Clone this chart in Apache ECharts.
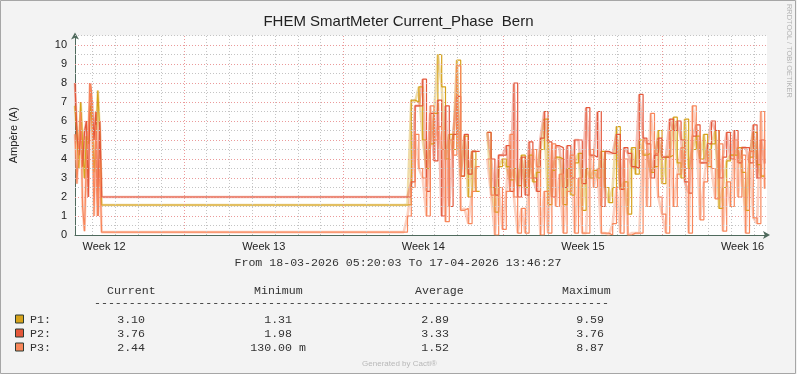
<!DOCTYPE html>
<html><head><meta charset="utf-8">
<script src="https://cdn.jsdelivr.net/npm/echarts@6/dist/echarts.min.js"></script>
<style>html,body{margin:0;padding:0;background:#f3f3f3}#c{width:797px;height:374px}</style>
</head><body><div id="c"></div>
<script>
// time in hours since 18-03-2026 05:20:03
const hours = [0,2,4,6,8,10,12,14,16,18,20,22,24,26,28,346,
350,354,358,362,366,370,374,378,382,386,
390,394,398,402,406,410,414,418,422,426,
430,434,438,442,446,450,454,458,462,466,
470,474,478,482,486,490,494,498,502,506,
510,514,518,522,526,530,534,538,542,546,
550,554,558,562,566,570,574,578,582,586,
590,594,598,602,606,610,614,618,622,626,
630,634,638,642,646,650,654,658,662,666,
670,674,678,682,686,690,694,698,702,706,
710,714,718,722,726];

const P1 = [6.8,5.4,3.5,7.0,4.8,3.0,5.2,4.8,6.8,6.0,3.3,4.7,7.6,5.5,1.58,1.58,
1.6,7.1,7.0,7.8,5.0,3.5,4.8,6.4,9.5,7.8,
4.0,5.3,4.5,9.2,3.1,5.2,2.0,4.4,2.3,null,
null,5.4,2.5,1.2,3.6,4.0,3.6,2.9,3.5,2.6,
4.2,2.5,4.2,2.8,3.3,4.5,6.1,1.6,3.4,4.1,
4.0,1.6,3.5,2.1,3.8,4.3,1.3,3.5,3.0,3.4,
3.0,4.4,2.5,1.7,2.5,5.7,2.4,2.8,1.1,4.6,
3.2,5.0,4.2,4.3,3.3,3.6,5.5,2.7,4.1,4.2,
6.2,3.8,3.0,6.1,3.5,4.5,5.2,4.0,5.3,3.6,
4.8,5.5,1.4,2.5,3.9,4.2,4.2,4.6,3.3,1.3,
4.1,5.4,3.7,3.1,3.10];

const P2 = [8.0,5.3,4.2,5.5,3.6,5.4,6.0,2.0,8.0,6.9,5.0,6.5,1.0,6.0,2.0,2.0,
2.0,2.8,6.8,6.8,8.2,2.3,6.4,3.9,7.1,1.0,
6.8,1.5,5.3,7.3,3.1,5.3,3.2,4.4,4.4,null,
null,5.4,4.0,2.1,4.2,4.2,4.7,2.3,8.0,2.0,
4.1,2.1,4.9,3.0,2.3,5.1,6.5,4.9,2.0,4.7,
4.6,2.5,4.7,3.0,5.0,5.0,2.7,6.7,4.2,4.1,
6.5,1.5,4.4,4.3,4.3,5.3,2.4,4.6,4.3,3.6,
3.5,7.4,5.1,4.8,3.0,4.2,5.1,4.1,4.1,6.1,
5.5,6.0,5.0,2.8,2.2,5.2,5.8,3.8,3.8,4.8,
6.0,5.5,3.0,4.1,5.4,4.0,5.5,3.8,4.6,4.6,
3.8,5.8,3.0,5.0,3.76];

const P3 = [5.3,2.7,4.8,6.5,1.5,0.2,4.0,5.3,8.0,6.8,1.0,5.8,1.0,4.0,0.15,0.15,
1.0,2.5,5.3,3.5,3.0,1.0,6.8,5.0,5.7,4.5,
0.7,5.0,4.2,8.9,1.3,1.4,0.6,2.3,3.6,null,
null,4.0,2.1,0.0,2.5,0.3,2.3,5.3,2.0,0.1,
1.4,0.1,3.0,4.5,3.6,0.0,2.3,0.1,4.8,1.5,
3.2,0.1,2.3,4.2,0.1,3.0,0.1,0.1,4.5,2.5,
3.5,0.1,0.1,0.0,0.6,2.5,0.1,4.0,0.0,0.1,
0.1,0.1,5.0,1.5,6.4,4.3,2.0,1.1,0.1,5.5,
1.5,3.2,4.6,3.5,0.1,6.8,5.5,0.8,2.8,4.5,
3.5,1.9,4.8,0.2,2.8,1.5,5.0,2.0,4.2,0.1,
4.4,0.9,0.6,6.5,2.44];

const seriesNames = ['P1','P2','P3'];
const seriesColors = ['#D6A21B','#E4573A','#F8875B'];

const weekLabels = ['Week 12','Week 13','Week 14','Week 15','Week 16'];
const weekLabelHours = [30.67,198.67,366.67,534.67,702.67];
const weekStartHours = [114.67,282.67,450.67,618.67];
const dayStartHours = [18.67,42.67,66.67,90.67,114.67,138.67,162.67,186.67,210.67,234.67,
258.67,282.67,306.67,330.67,354.67,378.67,402.67,426.67,450.67,474.67,
498.67,522.67,546.67,570.67,594.67,618.67,642.67,666.67,690.67,714.67];
const xMax = 728.44;

const yTicks = [0,1,2,3,4,5,6,7,8,9,10];
const yMinorTicks = [0.5,1.5,2.5,3.5,4.5,5.5,6.5,7.5,8.5,9.5,10.5];
const yMax = 10.5;

const titleText = 'FHEM SmartMeter Current_Phase  Bern';
const yAxisTitle = 'Ampère (A)';
const rangeText = 'From 18-03-2026 05:20:03 To 17-04-2026 13:46:27';
const legendHeaders = ['Current','Minimum','Average','Maximum'];
const legendLabels = ['P1:','P2:','P3:'];
const legendCurrent = ['3.10','3.76','2.44'];
const legendMinimum = ['1.31','1.98','130.00 m'];
const legendAverage = ['2.89','3.33','1.52'];
const legendMaximum = ['9.59','3.76','8.87'];

const chart = echarts.init(document.getElementById('c'), null, {renderer:'canvas'});

const GRID_L = 67, GRID_R = 30, GRID_T = 35.5, GRID_B = 139;
const minorGrid = {color:'#c4c4c4', width:1, type:[1,2]};
const majorGrid = {color:'#eb9a9a', width:1, type:[1,2]};

const gridLines = [];
dayStartHours.forEach(h => { if (weekStartHours.indexOf(h) < 0) gridLines.push({xAxis:h, lineStyle:minorGrid}); });
weekStartHours.forEach(h => gridLines.push({xAxis:h, lineStyle:majorGrid}));
yMinorTicks.forEach(v => gridLines.push({yAxis:v, lineStyle:minorGrid}));
yTicks.forEach(v => { if (v > 0) gridLines.push({yAxis:v, lineStyle:majorGrid}); });

function pairs(vals){ return hours.map((h,i)=>[h, vals[i]]); }
const allVals = [P1,P2,P3];

const series = [{
  type:'line', z:1, data:[[0,0]], showSymbol:false, lineStyle:{opacity:0}, silent:true,
  markLine:{silent:true, symbol:['none','none'], label:{show:false}, animation:false, data:gridLines}
}];
allVals.forEach((v,k)=>series.push({
  name:seriesNames[k]+'_shade', type:'line', z:2, data:pairs(v), showSymbol:false, connectNulls:false,
  lineStyle:{color:seriesColors[k], width:2.6, opacity:0.38}, silent:true
}));
allVals.forEach((v,k)=>series.push({
  name:seriesNames[k], type:'line', z:3, step:'end', data:pairs(v), showSymbol:false, connectNulls:false,
  lineStyle:{color:seriesColors[k], width:1.2}, silent:true
}));

const mono = '11.6px "Liberation Mono", monospace';
const CW = 6.96;
const graphics = [];
function txt(x,y,text,font,fill,align){
  graphics.push({type:'text', silent:true, style:{x:x,y:y,text:text,font:font,fill:fill,align:align||'left',verticalAlign:'middle'}});
}
txt(398, 263, rangeText, mono, '#333', 'center');
const headerX = [107,254,415,562];
legendHeaders.forEach((h,i)=>txt(headerX[i], 291, h, mono, '#333', 'left'));
txt(94, 303, '-'.repeat(74), mono, '#333', 'left');
const colRight = [145,292,449,604];
const cols = [legendCurrent, legendMinimum, legendAverage, legendMaximum];
legendLabels.forEach((lab,r)=>{
  const y = 319.5 + r*14;
  graphics.push({type:'rect', silent:true, shape:{x:15.5,y:y-4.5,width:8,height:8},
    style:{fill:seriesColors[r], stroke:'#2b3b33', lineWidth:1}});
  txt(30, y, lab, mono, '#333', 'left');
  cols.forEach((col,c)=>{
    let s = col[r];
    if (s.indexOf(' ') < 0) s = s + '  ';
    txt(colRight[c] + 2*CW, y, s, mono, '#333', 'right');
  });
});
txt(399.5, 364, 'Generated by Cacti®', '8px "Liberation Sans", sans-serif', '#b8b8b8', 'center');
graphics.push({type:'text', silent:true, x:789, y:4, rotation:-Math.PI/2,
  style:{x:0,y:0,text:'RRDTOOL / TOBI OETIKER', font:'7.4px "Liberation Sans", sans-serif', fill:'#b5b5b5', align:'left', verticalAlign:'middle'}});
graphics.push({type:'rect', silent:true, shape:{x:0.5,y:0.5,width:795,height:373},
  style:{fill:null, stroke:'#a6a6a6', lineWidth:1}});

chart.setOption({
  animation:false,
  backgroundColor:'#f3f3f3',
  title:{text:titleText, left:'center', top:14, padding:0,
    textStyle:{fontFamily:'Liberation Sans', fontSize:15, fontWeight:'normal', color:'#222'}},
  grid:{left:GRID_L, right:GRID_R, top:GRID_T, bottom:GRID_B, show:true, backgroundColor:'#ffffff', borderWidth:0},
  xAxis:{type:'value', min:0, max:xMax,
    axisLine:{show:true, onZero:false, symbol:['none','arrow'], symbolSize:[6,7], symbolOffset:[0,3],
      lineStyle:{color:'#4f6a5d', width:1}},
    axisTick:{show:false}, splitLine:{show:false},
    axisLabel:{customValues:weekLabelHours, margin:6, color:'#222', fontFamily:'Liberation Sans', fontSize:11,
      formatter:function(v){ const i = weekLabelHours.indexOf(v); return i>=0 ? weekLabels[i] : ''; }}
  },
  yAxis:{type:'value', min:0, max:yMax, interval:1,
    name:yAxisTitle, nameLocation:'middle', nameGap:56, nameRotate:90,
    nameTextStyle:{fontFamily:'Liberation Sans', fontSize:11, color:'#222'},
    axisLine:{show:true, onZero:false, symbol:['none','arrow'], symbolSize:[6,7], symbolOffset:[0,3],
      lineStyle:{color:'#4f6a5d', width:1}},
    axisTick:{show:false}, splitLine:{show:false},
    axisLabel:{customValues:yTicks, margin:8, color:'#222', fontFamily:'Liberation Sans', fontSize:11}
  },
  series:series,
  graphic:graphics
});
</script></body></html>
